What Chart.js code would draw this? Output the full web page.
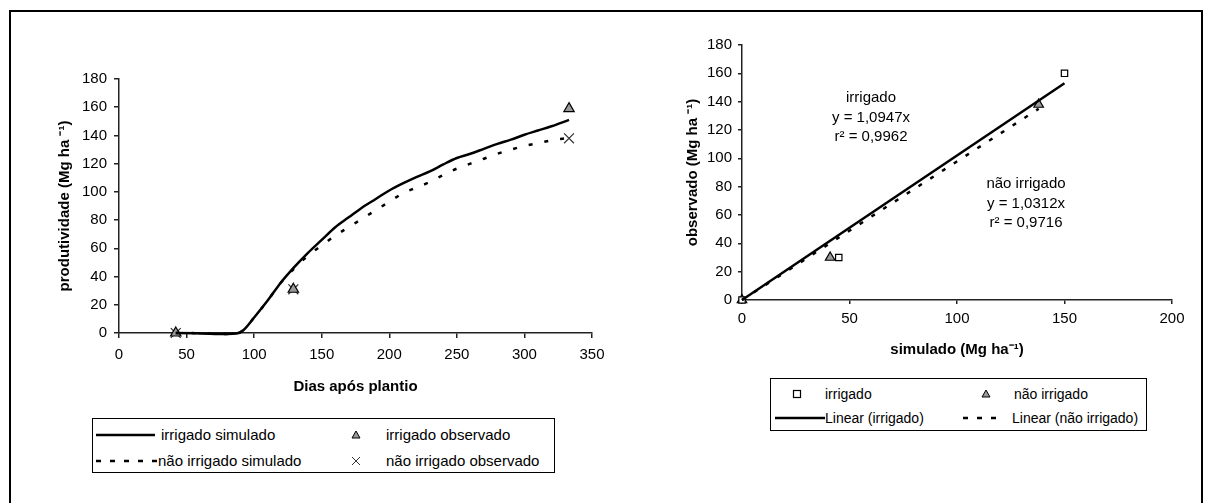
<!DOCTYPE html>
<html><head><meta charset="utf-8">
<script src="https://cdn.jsdelivr.net/npm/chart.js@4.4.1/dist/chart.umd.min.js"></script>
<style>
html,body{margin:0;padding:0;background:#fff;}
body{width:1211px;height:503px;position:relative;overflow:hidden;font-family:"Liberation Sans",Arial,sans-serif;color:#000;}
#frame{position:absolute;left:9px;top:10px;width:1194px;height:510px;border:2px solid #000;box-sizing:border-box;}
canvas{position:absolute;top:0;}
#c1{left:0;}
#c2{left:620px;}
.lg{position:absolute;border:1.5px solid #000;box-sizing:border-box;background:#fff;}
.lg span{position:absolute;white-space:nowrap;line-height:18px;}
.lg svg{position:absolute;overflow:visible;}
.ann{position:absolute;white-space:nowrap;font-size:15px;line-height:18px;transform:translateX(-50%);}
</style></head>
<body>
<div id="frame"></div>
<canvas id="c1" width="620" height="400"></canvas>
<canvas id="c2" width="591" height="400"></canvas>

<div class="lg" style="left:92px;top:418px;width:463px;height:55px;font-size:15px;">
  <svg style="left:3px;top:16px" width="60" height="2"><line x1="0" y1="0" x2="59" y2="0" stroke="#000" stroke-width="2.5"/></svg>
  <span style="left:68px;top:7px;">irrigado simulado</span>
  <svg style="left:263px;top:16px" width="1" height="1"><polygon points="-4,3 4,3 0,-4" fill="#999" stroke="#000" stroke-width="1"/></svg>
  <span style="left:293px;top:7px;">irrigado observado</span>
  <svg style="left:3px;top:42px" width="60" height="2"><line x1="0" y1="0" x2="62" y2="0" stroke="#000" stroke-width="2.5" stroke-dasharray="5,9"/></svg>
  <span style="left:65px;top:33px;">não irrigado simulado</span>
  <svg style="left:263px;top:42px" width="1" height="1"><path d="M-4,-4 L4,4 M-4,4 L4,-4" stroke="#333" stroke-width="1"/></svg>
  <span style="left:293px;top:33px;">não irrigado observado</span>
</div>

<div class="lg" style="left:770px;top:378px;width:377px;height:53px;font-size:14px;">
  <svg style="left:26px;top:15px" width="1" height="1"><rect x="-3.5" y="-3.5" width="7" height="7" fill="#fff" stroke="#000" stroke-width="1.2"/></svg>
  <span style="left:54px;top:6px;">irrigado</span>
  <svg style="left:215px;top:15px" width="1" height="1"><polygon points="-4,3 4,3 0,-4" fill="#999" stroke="#000" stroke-width="1"/></svg>
  <span style="left:243px;top:6px;">não irrigado</span>
  <svg style="left:4px;top:39px" width="50" height="2"><line x1="0" y1="0" x2="50" y2="0" stroke="#000" stroke-width="2.5"/></svg>
  <span style="left:54px;top:30px;">Linear (irrigado)</span>
  <svg style="left:192px;top:39px" width="40" height="2"><line x1="0" y1="0" x2="36" y2="0" stroke="#000" stroke-width="2.5" stroke-dasharray="5,9"/></svg>
  <span style="left:241px;top:30px;">Linear (não irrigado)</span>
</div>

<div class="ann" style="left:871px;top:88px;">irrigado</div>
<div class="ann" style="left:871px;top:108px;">y = 1,0947x</div>
<div class="ann" style="left:871px;top:127px;">r² = 0,9962</div>
<div class="ann" style="left:1026px;top:174px;">não irrigado</div>
<div class="ann" style="left:1026px;top:194px;">y = 1,0312x</div>
<div class="ann" style="left:1026px;top:213px;">r² = 0,9716</div>

<script>
// ---- Left chart: productivity over days ----
const diasSimIrrig   = [42, 60, 80, 87, 92, 100, 110, 120, 130, 140, 150, 160, 170, 180, 190, 200, 210, 220, 230, 240, 250, 260, 270, 280, 290, 300, 310, 320, 333];
const prodSimIrrig   = [0, -0.3, -0.7, -0.4, 2, 11, 23, 36, 47, 57, 66, 75, 82, 89, 95, 101, 106, 110.5, 114.5, 119.5, 124, 127, 130.5, 134, 137, 140.5, 143.5, 146.5, 151];
const diasSimNao     = [42, 60, 80, 87, 92, 100, 110, 120, 130, 140, 150, 160, 170, 180, 190, 200, 210, 220, 230, 240, 250, 260, 270, 280, 290, 300, 310, 320, 330];
const prodSimNao     = [0, -0.3, -0.7, -0.4, 2, 11, 23, 36, 46, 55, 62, 69, 75, 81, 87, 93, 99, 103, 107, 112, 116.5, 120, 123.5, 127, 130, 132.5, 134.5, 136.5, 138];
const diasObs        = [42, 129, 333];
const prodObsIrrig   = [0, 31, 159];
const prodObsNao     = [0, 31, 138];
const xTicksDias     = [0, 50, 100, 150, 200, 250, 300, 350];
const yTicksProd     = [0, 20, 40, 60, 80, 100, 120, 140, 160, 180];

// ---- Right chart: observed vs simulated ----
const simIrrig       = [0, 45, 150];
const obsIrrig       = [0, 30, 160];
const simNao         = [0, 41, 138];
const obsNao         = [0, 30, 138];
const trendIrrigX    = [0, 150];
const trendIrrigY    = [0, 153];
const trendNaoX      = [0, 138];
const trendNaoY      = [0, 135];
const xTicksSim      = [0, 50, 100, 150, 200];

const FAM = '"Liberation Sans", Arial, sans-serif';
const pts = (xs, ys) => xs.map((x, i) => ({x, y: ys[i]}));

function axisCommon(min, max, step, tickLen, pad) {
  return {
    type: 'linear', min, max,
    ticks: {stepSize: step, color: '#000', font: {size: 15, family: FAM}, padding: pad, maxRotation: 0, autoSkip: false},
    grid: {drawOnChartArea: false, drawTicks: true, tickLength: tickLen, color: '#222', lineWidth: 1.5},
    border: {display: true, color: '#222', width: 1.5}
  };
}

// Left chart
{
  const x = axisCommon(0, 350, 50, 5, 8);
  x.afterBuildTicks = s => { s.ticks = xTicksDias.map(v => ({value: v})); };
  x.title = {display: true, text: 'Dias após plantio', color: '#000', font: {size: 15, weight: 'bold', family: FAM}, padding: {top: 0, bottom: 4}};
  x.afterFit = s => { s.height = 67; };
  const y = axisCommon(0, 180, 20, 5, 7);
  y.afterBuildTicks = s => { s.ticks = yTicksProd.map(v => ({value: v})); };
  y.title = {display: true, text: 'produtividade (Mg ha ⁻¹)', color: '#000', font: {size: 15, weight: 'bold', family: FAM}, padding: {top: 56, bottom: 0}};
  y.afterFit = s => { s.width = 119; };

  new Chart(document.getElementById('c1'), {
    type: 'scatter',
    data: {datasets: [
      {label: 'irrigado simulado', data: pts(diasSimIrrig, prodSimIrrig), showLine: true, borderColor: '#000', borderWidth: 2.5, pointRadius: 0, cubicInterpolationMode: 'monotone', clip: false},
      {label: 'não irrigado simulado', data: pts(diasSimNao, prodSimNao), showLine: true, borderColor: '#000', borderWidth: 2.5, borderDash: [4, 12], pointRadius: 0, cubicInterpolationMode: 'monotone', clip: false},
      {label: 'irrigado observado', data: pts(diasObs, prodObsIrrig), pointStyle: 'triangle', pointRadius: 6, backgroundColor: '#9a9a9a', borderColor: '#000', borderWidth: 1.2, clip: false},
      {label: 'não irrigado observado', data: pts(diasObs, prodObsNao), pointStyle: 'crossRot', pointRadius: 7, borderColor: '#333', borderWidth: 1.2, clip: false}
    ]},
    options: {
      responsive: false, animation: false, events: [],
      layout: {padding: {left: 0, right: 28, top: 79, bottom: 0}},
      plugins: {legend: {display: false}, tooltip: {enabled: false}},
      scales: {x, y}
    }
  });
}

// Right chart
{
  const x = axisCommon(0, 200, 50, 4, 6);
  x.afterBuildTicks = s => { s.ticks = xTicksSim.map(v => ({value: v})); };
  x.title = {display: true, text: 'simulado (Mg ha⁻¹)', color: '#000', font: {size: 15, weight: 'bold', family: FAM}, padding: {top: 0, bottom: 41}};
  x.afterFit = s => { s.height = 100; };
  const y = axisCommon(0, 180, 20, 4, 6);
  y.afterBuildTicks = s => { s.ticks = yTicksProd.map(v => ({value: v})); };
  y.title = {display: true, text: 'observado (Mg ha ⁻¹)', color: '#000', font: {size: 15, weight: 'bold', family: FAM}, padding: {top: 64, bottom: 0}};
  y.afterFit = s => { s.width = 122; };

  new Chart(document.getElementById('c2'), {
    type: 'scatter',
    data: {datasets: [
      {label: 'Linear (irrigado)', data: pts(trendIrrigX, trendIrrigY), showLine: true, borderColor: '#000', borderWidth: 2.5, pointRadius: 0, clip: false},
      {label: 'Linear (não irrigado)', data: pts(trendNaoX, trendNaoY), showLine: true, borderColor: '#000', borderWidth: 2.5, borderDash: [4, 10], pointRadius: 0, clip: false},
      {label: 'irrigado', data: pts(simIrrig, obsIrrig), pointStyle: 'rect', pointRadius: 4.5, backgroundColor: '#fff', borderColor: '#000', borderWidth: 1.2, clip: false},
      {label: 'não irrigado', data: pts(simNao, obsNao), pointStyle: 'triangle', pointRadius: 5.5, backgroundColor: '#9a9a9a', borderColor: '#000', borderWidth: 1.2, clip: false}
    ]},
    options: {
      responsive: false, animation: false, events: [],
      layout: {padding: {left: 0, right: 39, top: 45, bottom: 0}},
      plugins: {legend: {display: false}, tooltip: {enabled: false}},
      scales: {x, y}
    }
  });
}
</script>
</body></html>
